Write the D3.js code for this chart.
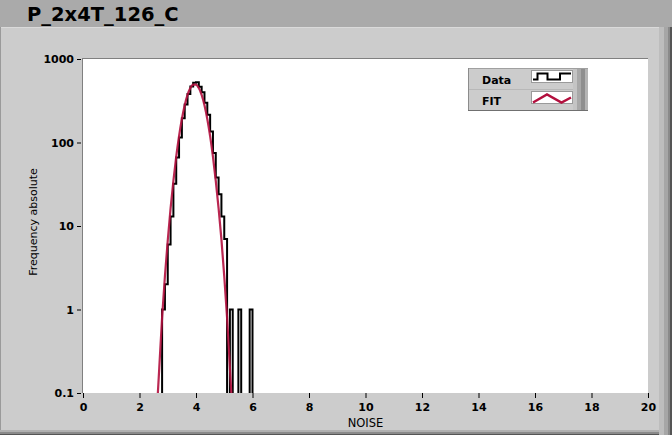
<!DOCTYPE html>
<html><head><meta charset="utf-8">
<script src="https://cdn.jsdelivr.net/npm/d3@7"></script>
<style>html,body{margin:0;padding:0;background:#cccccc;overflow:hidden}</style>
</head><body><svg id="c" width="672" height="435"></svg>
<script>
const title = "P_2x4T_126_C";
const xLabel = "NOISE";
const yLabel = "Frequency absolute";
const legendNames = ["Data", "FIT"];
// histogram (step plot): left edge of each bin and its count
const noise  = [2.7,2.8,2.9,3.0,3.1,3.2,3.3,3.4,3.5,3.6,3.7,3.8,3.9,4.0,4.1,4.2,4.3,4.4,4.5,4.6,4.7,4.8,4.9,5.0,5.1,5.2,5.3,5.4,5.5,5.6,5.7,5.8,5.9,6.0];
const counts = [0,1,2,6,13,32,66,115,195,285,380,470,520,525,465,400,300,215,135,75,38,24,13,7,0,1,0,0,1,0,0,0,1,0];
// gaussian fit curve samples
const fitNoise  = [2.6,2.7,2.8,2.9,3.0,3.1,3.2,3.3,3.4,3.5,3.6,3.7,3.8,3.9,4.0,4.1,4.2,4.3,4.4,4.5,4.6,4.7,4.8,4.9,5.0,5.1,5.2,5.3];
const fitValues = [0.05,0.2,0.8,2.5,6.7,16.3,34.8,67.6,119,191,280,372,449,494,494,449,372,280,191,119,67.6,34.8,16.3,6.9,2.5,0.8,0.2,0.05];
const xTicks = [0,2,4,6,8,10,12,14,16,18,20];
const yTicks = [0.1,1,10,100,1000];
const yTickLabels = ["0.1","1","10","100","1000"];

const svg = d3.select("#c");
const FONT = "DejaVu Sans";
const L = 83, R = 648, T = 59, B = 393;

// backgrounds
svg.append("rect").attr("x",0).attr("y",0).attr("width",672).attr("height",435).attr("fill","#cccccc");
svg.append("rect").attr("x",0).attr("y",0).attr("width",672).attr("height",27).attr("fill","#aaaaaa");
svg.append("line").attr("x1",0).attr("x2",659).attr("y1",27.5).attr("y2",27.5).attr("stroke","#dadada");
svg.append("line").attr("x1",0.5).attr("x2",0.5).attr("y1",27).attr("y2",435).attr("stroke","#9a9a9a");
// right 3D border
[[659,5,"#bdbdbd"],[664,4,"#a6a6a6"],[668,2,"#8a8a8a"],[670,2,"#555555"]].forEach(([x,w,c])=>{
  svg.append("rect").attr("x",x).attr("y",27).attr("width",w).attr("height",408).attr("fill",c);
});
// bottom border
[[430,2,"#b0b0b0"],[432,2,"#8a8a8a"],[434,1,"#555555"]].forEach(([y,h,c])=>{
  svg.append("rect").attr("x",0).attr("y",y).attr("width",659).attr("height",h).attr("fill",c);
});

svg.append("text").attr("x",27).attr("y",21).attr("font-family",FONT).attr("font-weight","bold")
  .attr("font-size","19.5px").attr("fill","#000").text(title);

// plot area
svg.append("rect").attr("x",L).attr("y",T).attr("width",R-L).attr("height",B-T).attr("fill","#fff");
svg.append("line").attr("x1",L-0.5).attr("x2",L-0.5).attr("y1",T-1).attr("y2",B).attr("stroke","#808080");
svg.append("line").attr("x1",L-1).attr("x2",R).attr("y1",T-0.5).attr("y2",T-0.5).attr("stroke","#808080");

const x = d3.scaleLinear().domain([0,20]).range([L,R]);
const y = d3.scaleLog().domain([0.1,1000]).range([B,T]);

svg.append("clipPath").attr("id","clip").append("rect").attr("x",L).attr("y",T).attr("width",R-L).attr("height",B-T);
const g = svg.append("g").attr("clip-path","url(#clip)");

const yv = v => v > 0 ? y(v) : y(0.01);

g.append("path").datum(noise.map((n,i)=>[n,counts[i]]))
  .attr("d", d3.line().x(d=>x(d[0])).y(d=>yv(d[1])).curve(d3.curveStepAfter))
  .attr("fill","none").attr("stroke","#000").attr("stroke-width",2);

g.append("path").datum(fitNoise.map((n,i)=>[n,fitValues[i]]))
  .attr("d", d3.line().x(d=>x(d[0])).y(d=>y(d[1])).curve(d3.curveMonotoneX))
  .attr("fill","none").attr("stroke","#b3103e").attr("stroke-width",2.2).attr("stroke-opacity",0.9);

// axes
const xa = svg.append("g").attr("transform",`translate(0,${B})`)
  .call(d3.axisBottom(x).tickValues(xTicks).tickFormat(d3.format("d")).tickSize(5).tickPadding(5));
const ya = svg.append("g").attr("transform",`translate(${L-2},0)`)
  .call(d3.axisLeft(y).tickValues(yTicks).tickFormat((d,i)=>yTickLabels[i]).tickSize(4).tickPadding(3));
[xa,ya].forEach(a=>{
  a.select(".domain").remove();
  a.selectAll("line").attr("stroke","#000");
  a.selectAll("text").attr("font-family",FONT).attr("font-weight","bold").attr("font-size","11px").attr("fill","#000");
});

svg.append("text").attr("x",x(10)).attr("y",427).attr("text-anchor","middle")
  .attr("font-family",FONT).attr("font-size","11.5px").attr("fill","#000").text(xLabel);
svg.append("text").attr("transform","translate(37,222) rotate(-90)").attr("text-anchor","middle")
  .attr("font-family",FONT).attr("font-size","11px").attr("fill","#000").text(yLabel);

// legend
const lg = svg.append("g");
lg.append("rect").attr("x",468).attr("y",68).attr("width",105).attr("height",43).attr("fill","#cccccc");
[[573,4,"#c4c4c4"],[577,4,"#a8a8a8"],[581,4,"#8e8e8e"],[585,3,"#b4b4b4"]].forEach(([xx,w,c])=>{
  lg.append("rect").attr("x",xx).attr("y",68).attr("width",w).attr("height",43).attr("fill",c);
});
lg.append("line").attr("x1",468).attr("x2",588).attr("y1",68.5).attr("y2",68.5).attr("stroke","#a0a0a0");
lg.append("line").attr("x1",468.5).attr("x2",468.5).attr("y1",68).attr("y2",111).attr("stroke","#8c8c8c");
lg.append("line").attr("x1",468).attr("x2",588).attr("y1",110.5).attr("y2",110.5).attr("stroke","#707070");
lg.append("line").attr("x1",469).attr("x2",573).attr("y1",89.5).attr("y2",89.5).attr("stroke","#b8b8b8");
legendNames.forEach((nm,i)=>{
  const y0 = 68 + i*21;
  lg.append("text").attr("x",482).attr("y",y0+16).attr("font-family",FONT).attr("font-weight","bold")
    .attr("font-size","11px").attr("fill","#000").text(nm);
  lg.append("rect").attr("x",531.5).attr("y",y0+2.5).attr("width",41).attr("height",12).attr("fill","#fff")
    .attr("stroke","#9a9a9a").attr("stroke-width",1);
});
lg.append("path").attr("d","M533,79.5H537.5V73.5H547.5V79.5H560V73.5H571")
  .attr("fill","none").attr("stroke","#000").attr("stroke-width",2);
lg.append("path").attr("d","M533,102.5L547,94.5L561.5,102.5L571,97.5")
  .attr("fill","none").attr("stroke","#b3103e").attr("stroke-width",2.5);
</script></body></html>
